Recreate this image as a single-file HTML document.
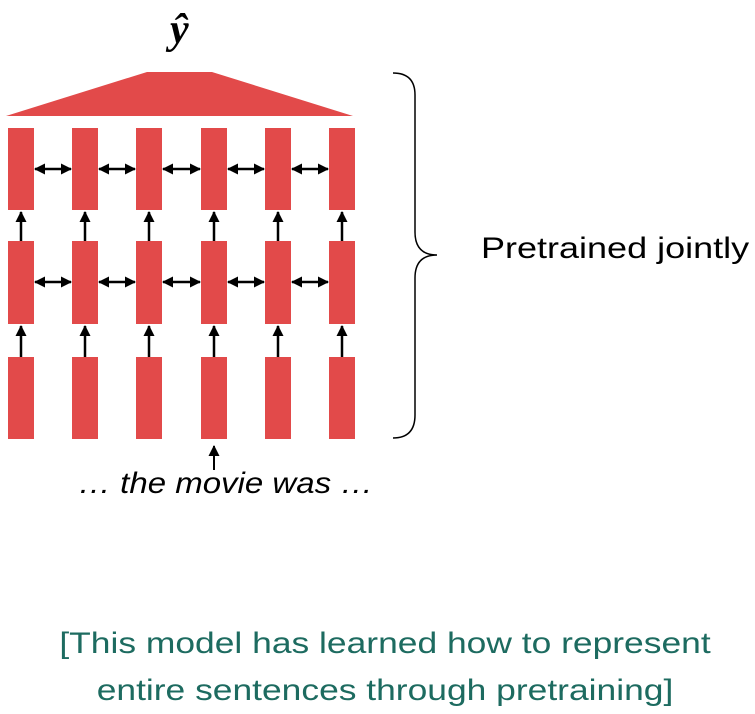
<!DOCTYPE html>
<html><head><meta charset="utf-8"><style>
body{margin:0;width:755px;height:713px;background:#fff;overflow:hidden;font-family:"Liberation Sans",sans-serif}
.t{position:absolute;white-space:nowrap}
</style></head><body>
<svg width="755" height="713" style="position:absolute;left:0;top:0">
<defs><marker id="ah" markerWidth="11" markerHeight="11" refX="10" refY="5.5" orient="auto-start-reverse" markerUnits="userSpaceOnUse"><path d="M0,0 L11,5.5 L0,11 z" fill="#000"/></marker></defs>
<polygon points="147,72 212,72 353,116 6,116" fill="#e24a4a"/>
<g id="g"></g>
<path d="M393,73 Q415,73 415,95 L415,232 Q415,255 437,255 Q415,255 415,278 L415,415 Q415,438 393,438" fill="none" stroke="#000" stroke-width="1.5"/>
<line x1="214" y1="470" x2="214" y2="446" stroke="#000" stroke-width="2" marker-end="url(#ah)"/>
</svg>
<div class="t" style="left:170px;top:6px;font-family:'Liberation Serif',serif;font-style:italic;font-weight:bold;font-size:42px">ŷ</div>
<div class="t" style="left:481px;top:232px;font-size:30px;transform:scaleX(1.2);transform-origin:left">Pretrained jointly</div>
<div class="t" style="left:78px;top:467px;font-size:30px;font-style:italic;transform:scaleX(1.1);transform-origin:left">… the movie was …</div>
<div class="t" style="left:0;width:770px;text-align:center;top:620px;font-size:30px;line-height:47px;color:#1d6b60;transform:scaleX(1.18);transform-origin:385px 0">[This model has learned how to represent<br>entire sentences through pretraining]</div>
<script>
const cols=[8,72,136,201,265,329];
const rows=[[128,210],[241,324],[357,439]];
const g=document.getElementById('g');const NS='http://www.w3.org/2000/svg';
function mk(t,a){const e=document.createElementNS(NS,t);for(const k in a)e.setAttribute(k,a[k]);g.appendChild(e);return e;}
rows.forEach((r,ri)=>cols.forEach((x,ci)=>{
 const e=mk('rect',{x:x,y:r[0],width:26,height:r[1]-r[0],fill:'#e24a4a'});
 
 
}));
[169,282].forEach((y,i)=>cols.slice(0,5).forEach((x,ci)=>{
 const e=mk('line',{x1:x+27,y1:y,x2:cols[ci+1]-1,y2:y,stroke:'#000','stroke-width':2.5,'marker-start':'url(#ah)','marker-end':'url(#ah)'});
 
 
}));
[[324,357],[210,241]].forEach(p=>cols.forEach(x=>{
 const e=mk('line',{x1:x+13,y1:p[1],x2:x+13,y2:p[0]+2,stroke:'#000','stroke-width':2.5,'marker-end':'url(#ah)'});
 
 
}));
</script>
</body></html>
